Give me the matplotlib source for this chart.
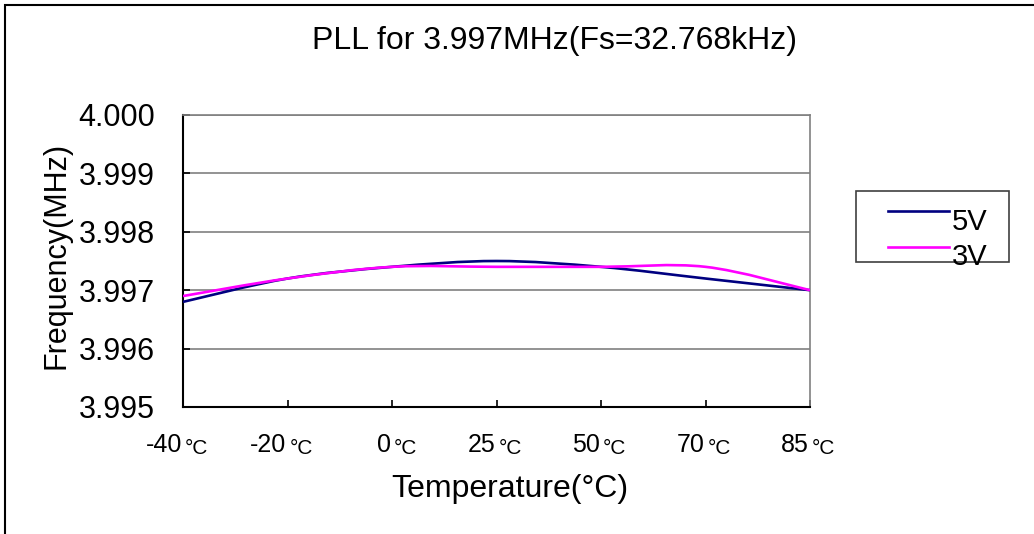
import matplotlib
matplotlib.use('Agg')
import matplotlib.pyplot as plt
from matplotlib.path import Path
from matplotlib.patches import PathPatch, Rectangle
from matplotlib.lines import Line2D

plt.rcParams['font.family'] = ['Liberation Sans', 'DejaVu Sans']

# data
temps = ['-40', '-20', '0', '25', '50', '70', '85']
freq_5v = [3.9968, 3.9972, 3.9974, 3.9975, 3.9974, 3.9972, 3.9970]
freq_3v = [3.9969, 3.9972, 3.9974, 3.9974, 3.9974, 3.9974, 3.9970]
series_names = ['5V', '3V']
series_colors = ['#000080', '#FF00FF']
y_ticks = [3.995, 3.996, 3.997, 3.998, 3.999, 4.000]

W, H = 1034, 534


def fx(px):
    return px / W


def fy(py):
    return 1 - py / H


def smooth_path(ys):
    # Excel-style smoothed line: cubic bezier through every point
    pts = list(enumerate(ys))
    n = len(pts)
    verts = [pts[0]]
    codes = [Path.MOVETO]
    for i in range(n - 1):
        p_prev = pts[max(i - 1, 0)]
        p0 = pts[i]
        p1 = pts[i + 1]
        p_next = pts[min(i + 2, n - 1)]
        c1 = (p0[0] + (p1[0] - p_prev[0]) / 6, p0[1] + (p1[1] - p_prev[1]) / 6)
        c2 = (p1[0] - (p_next[0] - p0[0]) / 6, p1[1] - (p_next[1] - p0[1]) / 6)
        verts += [c1, c2, p1]
        codes += [Path.CURVE4] * 3
    return Path(verts, codes)


fig = plt.figure(figsize=(W / 100, H / 100), dpi=100)
ax = fig.add_axes([fx(183), fy(407), fx(810) - fx(183), fy(115) - fy(407)])

for ys, c in zip([freq_5v, freq_3v], series_colors):
    ax.add_patch(PathPatch(smooth_path(ys), fill=False, edgecolor=c, lw=1.9,
                           zorder=3, capstyle='butt'))

ax.set_xlim(0, len(temps) - 1)
ax.set_ylim(3.995, 4.000)
ax.set_yticks(y_ticks)
ax.set_yticklabels(['%.3f' % v for v in y_ticks], fontsize=22)
ax.set_xticks(range(len(temps)))
ax.set_xticklabels([])
ax.tick_params(axis='both', direction='in', length=5, width=1.2, color='black')
ax.tick_params(axis='y', pad=20)
ax.grid(axis='y', color='#808080', lw=1.2)
for s in ['left', 'bottom']:
    ax.spines[s].set_linewidth(1.5)
    ax.spines[s].set_color('black')
for s in ['top', 'right']:
    ax.spines[s].set_linewidth(1.2)
    ax.spines[s].set_color('#808080')

# x tick labels: number + small degree sign
for i, t in enumerate(temps):
    ax.annotate(t, xy=(i, 0), xycoords=('data', 'axes fraction'),
                xytext=(-1, -38), textcoords='offset pixels',
                ha='right', va='center', fontsize=18)
    ax.annotate('°C', xy=(i, 0), xycoords=('data', 'axes fraction'),
                xytext=(2, -42), textcoords='offset pixels',
                ha='left', va='center', fontsize=15)

fig.text(fx(555), fy(41), 'PLL for 3.997MHz(Fs=32.768kHz)', ha='center',
         va='center', fontsize=23)
fig.text(fx(510), fy(489), 'Temperature(°C)', ha='center', va='center',
         fontsize=23)
fig.text(fx(56), fy(255), 'Frequency(MHz)', ha='center', va='center',
         rotation=90, fontsize=22)

# legend drawn by hand
fig.patches.append(Rectangle((fx(856), fy(262)), fx(1009) - fx(856),
                             fy(191) - fy(262), transform=fig.transFigure,
                             fill=False, edgecolor='#404040', lw=1.2))
for k, (name, c) in enumerate(zip(series_names, series_colors)):
    ly = [211, 247][k]
    fig.lines.append(Line2D([fx(888), fx(949)], [fy(ly), fy(ly)],
                            transform=fig.transFigure, color=c, lw=1.9))
    fig.text(fx(952), fy([222, 257][k]), name, ha='left', va='center',
             fontsize=21)

# outer chart border (continues past the right and bottom edges)
fig.patches.append(Rectangle((fx(5), -0.5), 2, fy(5) + 0.5,
                             transform=fig.transFigure, fill=False,
                             edgecolor='black', lw=1.5))

fig.savefig('out.png', dpi=100, facecolor='white')
